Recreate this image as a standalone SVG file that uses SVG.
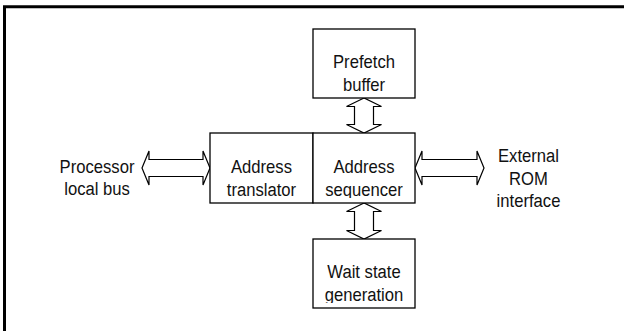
<svg xmlns="http://www.w3.org/2000/svg" width="624" height="331" viewBox="0 0 624 331">
<defs>
<style>
.box{fill:#fff;stroke:#000;stroke-width:1.3}
.arr{fill:#fff;stroke:#000;stroke-width:1.2;stroke-linejoin:miter}
.t{font-family:"Liberation Sans",Arial,sans-serif;font-size:18.5px;fill:#111;text-anchor:middle}
</style>
<clipPath id="clipSeq"><rect x="313" y="133" width="102" height="65"/></clipPath>
<clipPath id="clipWait"><rect x="313" y="239" width="102" height="64"/></clipPath>
</defs>
<rect width="624" height="331" fill="#fff"/>
<path d="M4.5 331 V6.8 H624" fill="none" stroke="#000" stroke-width="3"/>
<g id="connectors">
<polygon class="arr" points="142,168 149,151 149,159.5 203,159.5 203,151 210,168 203,185 203,176.5 149,176.5 149,185"/>
<polygon class="arr" points="415,168 422,151 422,159.5 477,159.5 477,151 484,168 477,185 477,176.5 422,176.5 422,185"/>
<polygon class="arr" points="364,98 346.5,106.5 354.5,106.5 354.5,124.5 346.5,124.5 364,133 381.5,124.5 373.5,124.5 373.5,106.5 381.5,106.5"/>
<polygon class="arr" points="364,203 346.5,211.5 354.5,211.5 354.5,230.5 346.5,230.5 364,239 381.5,230.5 373.5,230.5 373.5,211.5 381.5,211.5"/>
</g>
<g id="prefetch">
<rect class="box" x="313" y="29" width="102" height="69"/>
<text class="t" transform="translate(364 68) scale(0.9 1)">Prefetch</text>
<text class="t" transform="translate(364 91) scale(0.9 1)">buffer</text>
</g>
<g id="translator">
<rect class="box" x="210" y="133" width="103" height="70"/>
<text class="t" transform="translate(261.5 173) scale(0.9 1)">Address</text>
<text class="t" transform="translate(261.5 196) scale(0.9 1)">translator</text>
</g>
<g id="sequencer">
<rect class="box" x="313" y="133" width="102" height="70"/>
<text class="t" transform="translate(364 173) scale(0.9 1)">Address</text>
<g clip-path="url(#clipSeq)"><text class="t" transform="translate(364 196) scale(0.9 1)">sequencer</text></g>
</g>
<g id="waitstate">
<rect class="box" x="313" y="239" width="102" height="69"/>
<text class="t" transform="translate(364 278) scale(0.9 1)">Wait state</text>
<g clip-path="url(#clipWait)"><text class="t" transform="translate(364 301) scale(0.9 1)">generation</text></g>
</g>
<g id="processor">
<text class="t" transform="translate(97 173) scale(0.9 1)">Processor</text>
<text class="t" transform="translate(97 195) scale(0.9 1)">local bus</text>
</g>
<g id="external">
<text class="t" transform="translate(528.5 161.5) scale(0.9 1)">External</text>
<text class="t" transform="translate(528.5 184.5) scale(0.9 1)">ROM</text>
<text class="t" transform="translate(528.5 207) scale(0.9 1)">interface</text>
</g>
</svg>
